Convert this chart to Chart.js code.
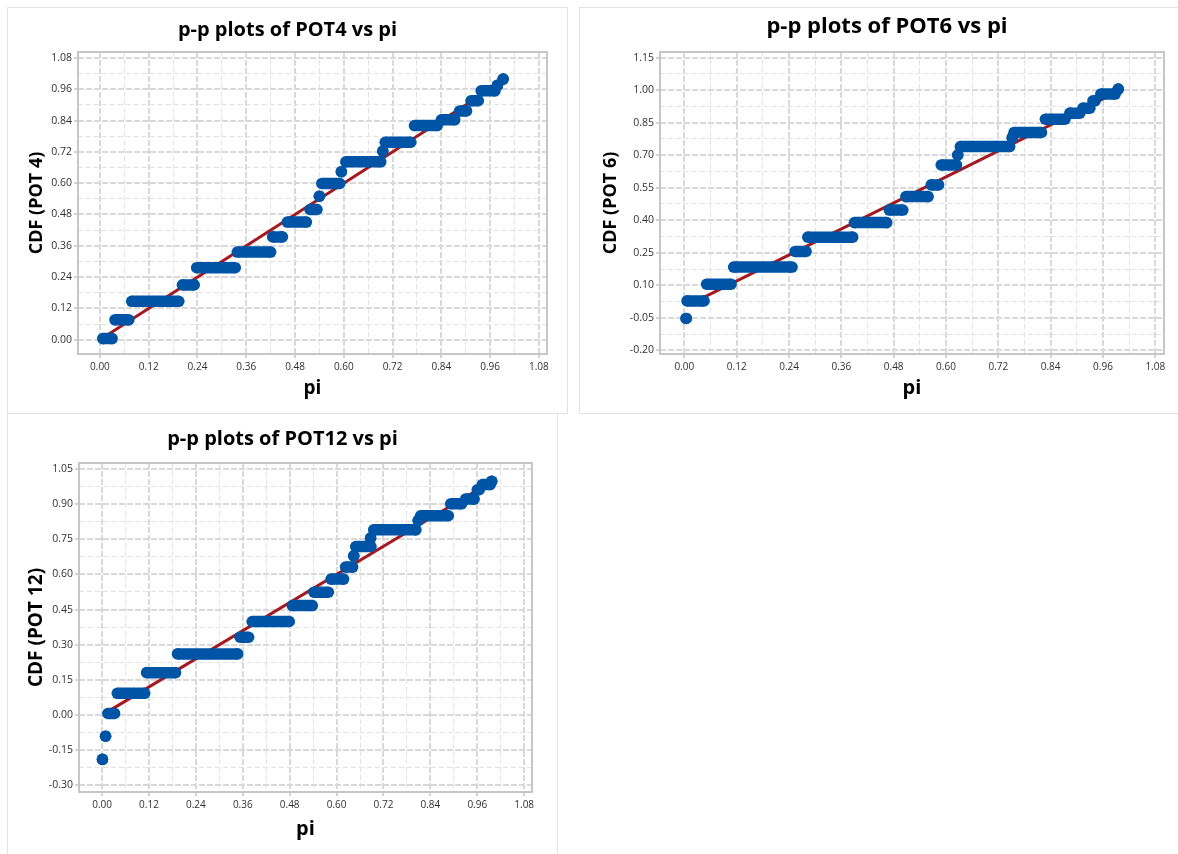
<!DOCTYPE html>
<html>
<head>
<meta charset="utf-8">
<title>p-p plots</title>
<script src="https://cdn.jsdelivr.net/npm/chart.js@4.4.1/dist/chart.umd.min.js"></script>
<style>
  html, body { margin: 0; padding: 0; background: #fff; overflow: hidden; }
  body { width: 1178px; height: 854px; position: relative; }
  .panel { position: absolute; border: 1px solid #e2e2e2; box-sizing: border-box; background: #fff; }
  .panel canvas { position: absolute; left: 0; top: 0; }
</style>
</head>
<body>
<div class="panel" style="left:7px;top:7px;width:561px;height:407px"><canvas id="pot4" width="559" height="405"></canvas></div>
<div class="panel" style="left:579px;top:7px;width:616px;height:407px"><canvas id="pot6" width="614" height="405"></canvas></div>
<div class="panel" style="left:7px;top:413px;width:551px;height:443px"><canvas id="pot12" width="549" height="440"></canvas></div>
<script>
// tick labels
const xLabels = [0, 0.12, 0.24, 0.36, 0.48, 0.60, 0.72, 0.84, 0.96, 1.08];
const yLabels4 = [0, 0.12, 0.24, 0.36, 0.48, 0.60, 0.72, 0.84, 0.96, 1.08];
const yLabels6 = [-0.20, -0.05, 0.10, 0.25, 0.40, 0.55, 0.70, 0.85, 1.00, 1.15];
const yLabels12 = [-0.30, -0.15, 0, 0.15, 0.30, 0.45, 0.60, 0.75, 0.90, 1.05];

// POT4: each step = points with the same CDF, from pi start to pi end
const pot4Start = [0.007, 0.037, 0.078, 0.203, 0.238, 0.338, 0.425, 0.461, 0.517, 0.540, 0.546, 0.594, 0.605, 0.696, 0.702, 0.774, 0.840, 0.885, 0.913, 0.938, 0.978, 0.992];
const pot4End   = [0.030, 0.071, 0.194, 0.232, 0.333, 0.420, 0.449, 0.508, 0.534, 0.540, 0.590, 0.594, 0.691, 0.696, 0.765, 0.830, 0.873, 0.902, 0.931, 0.972, 0.978, 0.992];
const pot4Cdf   = [0.004, 0.076, 0.147, 0.210, 0.276, 0.336, 0.394, 0.451, 0.499, 0.550, 0.599, 0.644, 0.682, 0.723, 0.757, 0.821, 0.843, 0.877, 0.916, 0.954, 0.975, 0.999];

// POT6
const pot6Start = [0.004, 0.006, 0.051, 0.113, 0.254, 0.283, 0.390, 0.470, 0.508, 0.566, 0.589, 0.627, 0.633, 0.752, 0.756, 0.828, 0.884, 0.914, 0.937, 0.955, 0.995];
const pot6End   = [0.004, 0.045, 0.107, 0.247, 0.279, 0.386, 0.464, 0.501, 0.559, 0.583, 0.624, 0.627, 0.746, 0.752, 0.819, 0.873, 0.907, 0.930, 0.942, 0.988, 0.995];
const pot6Cdf   = [-0.053, 0.028, 0.105, 0.184, 0.256, 0.322, 0.389, 0.447, 0.509, 0.563, 0.655, 0.701, 0.740, 0.781, 0.805, 0.866, 0.894, 0.917, 0.951, 0.982, 1.005];

// POT12
const pot12Start = [0.001, 0.009, 0.015, 0.039, 0.114, 0.193, 0.353, 0.384, 0.487, 0.542, 0.586, 0.623, 0.644, 0.649, 0.687, 0.695, 0.809, 0.815, 0.892, 0.930, 0.960, 0.973, 0.997];
const pot12End   = [0.001, 0.009, 0.032, 0.109, 0.188, 0.347, 0.375, 0.479, 0.538, 0.579, 0.618, 0.641, 0.644, 0.688, 0.687, 0.803, 0.809, 0.886, 0.920, 0.952, 0.965, 0.993, 0.997];
const pot12Cdf   = [-0.189, -0.090, 0.007, 0.093, 0.181, 0.261, 0.332, 0.399, 0.467, 0.524, 0.580, 0.631, 0.679, 0.719, 0.755, 0.790, 0.830, 0.850, 0.901, 0.921, 0.961, 0.983, 0.997];

// reference line y = x
const fitPi = [0.02, 0.99];
const fitCdf = [0.02, 0.99];

const BLUE = '#0054a5';
const RED = '#a3191f';

// Turn runs into line points, null breaks the line between runs
function buildRuns(startX, endX, cdf) {
    const pts = [];
    for (let i = 0; i < cdf.length; i++) {
        pts.push({ x: startX[i], y: cdf[i] });
        pts.push({ x: endX[i], y: cdf[i] });
        pts.push({ x: endX[i], y: null });
    }
    return pts;
}

// major ticks plus one minor gridline between them
function withMinor(labels) {
    const vals = [];
    for (let i = 0; i < labels.length; i++) {
        vals.push(labels[i]);
        if (i < labels.length - 1) vals.push((labels[i] + labels[i + 1]) / 2);
    }
    return vals;
}

function isMajor(v, labels) {
    return labels.some(l => Math.abs(l - v) < 1e-6);
}

// draws the gray box round the plot area
const framePlugin = {
    id: 'frame',
    beforeDatasetsDraw(chart) {
        const { ctx, chartArea: a } = chart;
        ctx.save();
        ctx.strokeStyle = '#c6c6c6';
        ctx.lineWidth = 2;
        ctx.strokeRect(a.left, a.top, a.right - a.left, a.bottom - a.top);
        ctx.restore();
    }
};

function axisOptions(labels, min, max, tickFont, isX, size) {
    const major = ctx => ctx.tick && isMajor(ctx.tick.value, labels);
    return {
        type: 'linear',
        min: min,
        max: max,
        afterBuildTicks: s => { s.ticks = withMinor(labels).map(v => ({ value: v })); },
        afterFit: s => { if (isX) s.height = size; else s.width = size; },
        ticks: {
            autoSkip: false,
            maxRotation: 0,
            padding: isX ? 3 : 2,
            color: '#303030',
            font: { family: 'Open Sans', size: tickFont },
            callback: v => isMajor(v, labels) ? v.toFixed(2) : ''
        },
        grid: {
            color: ctx => major(ctx) ? '#d9d9d9' : '#e2e2e2',
            lineWidth: ctx => major(ctx) ? 2 : 1,
            drawTicks: true,
            tickLength: 4,
            tickWidth: 1,
            tickBorderDash: [],
            tickColor: ctx => major(ctx) ? '#a8a8a8' : 'rgba(0,0,0,0)'
        },
        border: { display: false, dash: ctx => major(ctx) ? [6, 2] : [5, 3] }
    };
}

// empty axis on the right, only keeps room so the title centres on the panel
function spacerAxis(width) {
    return {
        type: 'linear',
        position: 'right',
        display: true,
        grid: { display: false, drawTicks: false },
        border: { display: false },
        ticks: { display: false },
        afterFit: s => { s.width = width; }
    };
}

function renderPP(id, cfg) {
    const ctx = document.getElementById(id).getContext('2d');
    const x = axisOptions(xLabels, cfg.xMin, cfg.xMax, 10, true, cfg.xAxisHeight);
    x.title = { display: true, text: 'pi', color: '#000', padding: cfg.piPad,
                font: { family: 'Open Sans', size: cfg.piFont, weight: 'bold' } };
    const y = axisOptions(cfg.yLabels, cfg.yMin, cfg.yMax, 10.5, false, cfg.yAxisWidth);
    y.title = { display: true, text: cfg.yTitle, color: '#000', padding: cfg.yTitlePad,
                font: { family: 'Open Sans', size: cfg.yTitleFont, weight: 'bold' } };

    return new Chart(ctx, {
        type: 'line',
        data: {
            datasets: [{
                label: 'CDF',
                data: buildRuns(cfg.start, cfg.end, cfg.cdf),
                borderColor: BLUE,
                backgroundColor: BLUE,
                borderWidth: 11.5,
                borderCapStyle: 'butt',
                pointRadius: 5.8,
                pointHoverRadius: 5.8,
                pointBorderWidth: 0,
                pointBackgroundColor: BLUE,
                spanGaps: false,
                tension: 0,
                order: 0
            }, {
                label: 'fit',
                data: fitPi.map((p, i) => ({ x: p, y: fitCdf[i] })),
                borderColor: RED,
                borderWidth: 3,
                pointRadius: 0,
                order: 1
            }]
        },
        options: {
            responsive: false,
            animation: false,
            events: [],
            layout: { padding: 0 },
            plugins: {
                legend: { display: false },
                tooltip: { enabled: false },
                title: {
                    display: true,
                    text: cfg.title,
                    color: '#000',
                    font: { family: 'Open Sans', size: cfg.titleFont, weight: 'bold', lineHeight: 1.2 },
                    padding: cfg.titlePad
                }
            },
            scales: { x: x, y: y, yRight: spacerAxis(cfg.rightPad) }
        },
        plugins: [framePlugin]
    });
}

renderPP('pot4', {
    title: 'p-p plots of POT4 vs pi', titleFont: 20, titlePad: { top: 10, bottom: 10 },
    yTitle: 'CDF (POT 4)', yTitleFont: 18, yTitlePad: 18,
    piFont: 19, piPad: 13,
    start: pot4Start, end: pot4End, cdf: pot4Cdf,
    yLabels: yLabels4,
    xMin: -0.054, xMax: 1.10, yMin: -0.055, yMax: 1.103,
    yAxisWidth: 70, xAxisHeight: 59, rightPad: 20
});

renderPP('pot6', {
    title: 'p-p plots of POT6 vs pi', titleFont: 22, titlePad: { top: 6, bottom: 11.6 },
    yTitle: 'CDF (POT 6)', yTitleFont: 18, yTitlePad: 20.5,
    piFont: 20, piPad: 13,
    start: pot6Start, end: pot6End, cdf: pot6Cdf,
    yLabels: yLabels6,
    xMin: -0.056, xMax: 1.10, yMin: -0.217, yMax: 1.176,
    yAxisWidth: 80, xAxisHeight: 59, rightPad: 30
});

renderPP('pot12', {
    title: 'p-p plots of POT12 vs pi', titleFont: 20, titlePad: { top: 13, bottom: 12 },
    yTitle: 'CDF (POT 12)', yTitleFont: 19, yTitlePad: 17,
    piFont: 20, piPad: 13,
    start: pot12Start, end: pot12End, cdf: pot12Cdf,
    yLabels: yLabels12,
    xMin: -0.059, xMax: 1.10, yMin: -0.328, yMax: 1.075,
    yAxisWidth: 71, xAxisHeight: 62, rightPad: 25
});
</script>
</body>
</html>
